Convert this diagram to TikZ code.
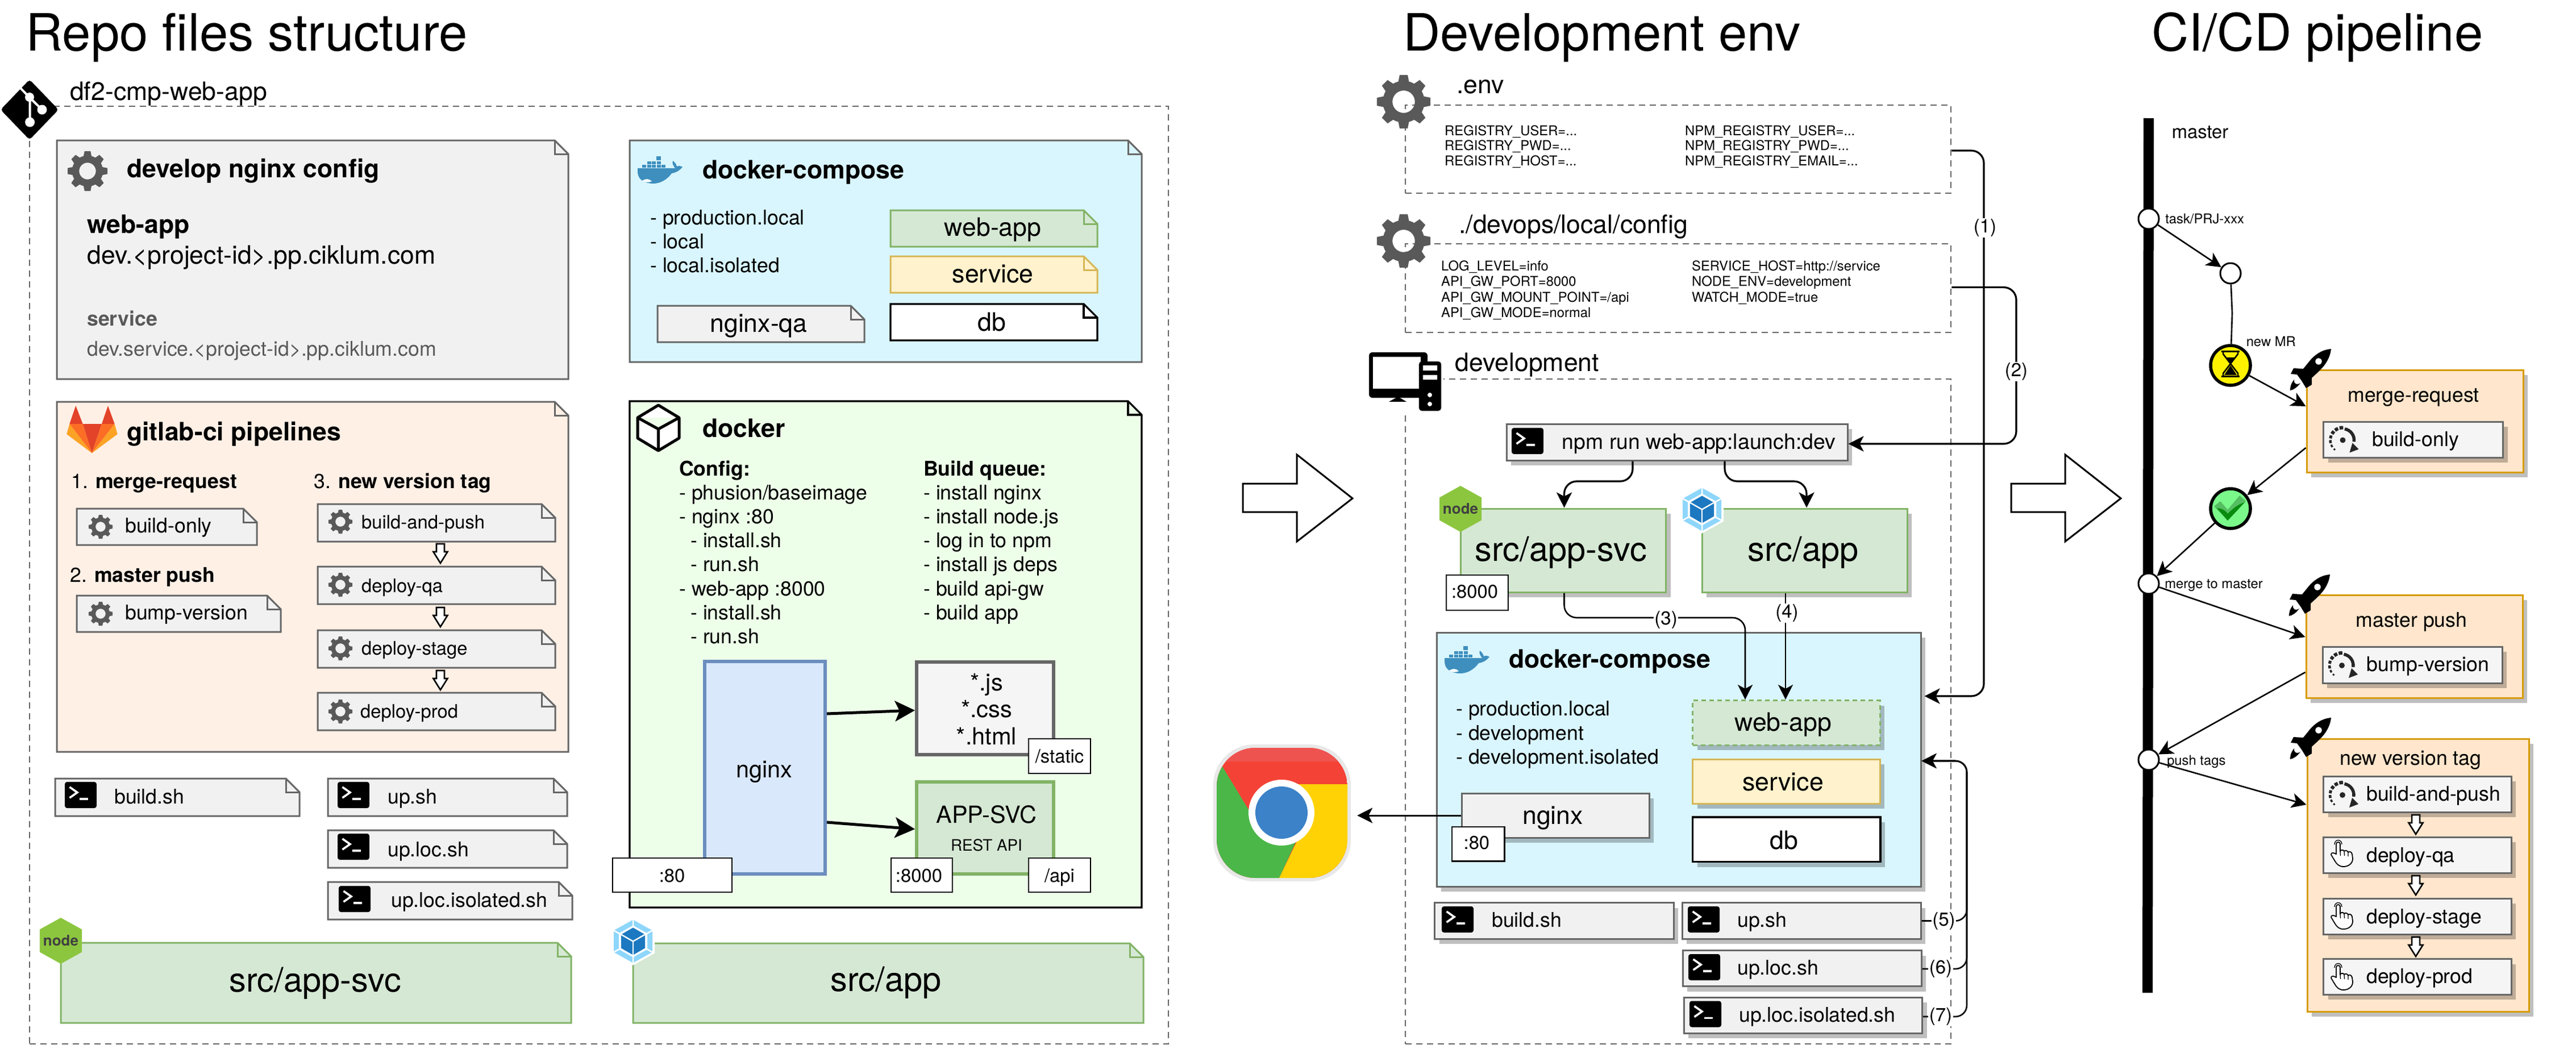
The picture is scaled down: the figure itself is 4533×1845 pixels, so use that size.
\documentclass[tikz,border=0pt]{standalone}
\usepackage{fontspec}
\setmainfont[Ligatures=NoCommon]{TeX Gyre Heros}
\usetikzlibrary{arrows.meta,fit,calc}
\definecolor{grayf}{HTML}{F1F1F1}
\definecolor{grays}{HTML}{666666}
\definecolor{gearc}{HTML}{595959}
\definecolor{orgf}{HTML}{FFF0E6}
\definecolor{cyanf}{HTML}{D9F6FF}
\definecolor{grnf}{HTML}{D5E8D4}
\definecolor{grns}{HTML}{82B366}
\definecolor{yelf}{HTML}{FFF2CC}
\definecolor{yels}{HTML}{D6B656}
\definecolor{dockf}{HTML}{EDFFE9}
\definecolor{bluef}{HTML}{DAE8FC}
\definecolor{blues}{HTML}{6C8EBF}
\definecolor{pipef}{HTML}{FFE6CC}
\definecolor{pipes}{HTML}{D79B00}
\definecolor{lightf}{HTML}{F5F5F5}
\definecolor{whalec}{HTML}{3E8FBE}
\definecolor{nodec}{HTML}{8CC63F}
\definecolor{glA}{HTML}{E24329}
\definecolor{glB}{HTML}{FC6D26}
\definecolor{glC}{HTML}{FCA326}
\definecolor{packL}{HTML}{8ED6FB}
\definecolor{packD}{HTML}{1C78C0}
\definecolor{chR}{HTML}{F44336}
\definecolor{chRL}{HTML}{EF5350}
\definecolor{chG}{HTML}{4CB749}
\definecolor{chY}{HTML}{FFD205}
\definecolor{chB}{HTML}{3B82C8}
\definecolor{okf}{HTML}{7AF88A}
\definecolor{okL}{HTML}{54BE60}
\definecolor{okD}{HTML}{088C0E}
\tikzset{
  grayb/.style={draw=grays,fill=grayf,line width=3pt},
  orgb/.style={draw=grays,fill=orgf,line width=3pt},
  cyanb/.style={draw=grays,fill=cyanf,line width=3pt},
  grnb/.style={draw=grns,fill=grnf,line width=3pt},
  yelb/.style={draw=yels,fill=yelf,line width=3pt},
  blkb/.style={draw=black,fill=white,line width=3.2pt},
  dockb/.style={draw=black,fill=dockf,line width=3.2pt},
  tagb/.style={draw=black,fill=white,line width=2.6pt},
  pipeb/.style={draw=pipes,fill=pipef,line width=3pt},
  jobb/.style={draw=grays,fill=lightf,line width=3pt},
  dashb/.style={draw=grays,line width=2.6pt,dash pattern=on 11pt off 8pt},
  conn/.style={draw=black,line width=3.2pt,-{Stealth[length=27pt,width=27pt,inset=7pt]}},
  thin conn/.style={draw=black,line width=2.6pt,-{Stealth[length=26pt,width=26pt,inset=7pt]}},
  fat conn/.style={draw=black,line width=5pt,-{Stealth[length=35pt,width=36pt,inset=8pt]}},
  lab/.style={fill=white,inner sep=1.5pt,font=\fontsize{33}{33}\selectfont},
  hollow/.style={draw=black,fill=white,line width=2.6pt,line join=miter},
  circ/.style={circle,draw=black,fill=white,line width=3pt,minimum size=36pt,inner sep=0pt},
}
\newcounter{tn}
\newcommand\TL[5][]{\stepcounter{tn}\node[anchor=base west,inner sep=0pt,font=\fontsize{#2}{#2}\selectfont,#1] (t\arabic{tn}) at (#3,#4) {#5};}
\newcommand\TC[5][]{\stepcounter{tn}\node[anchor=base,inner sep=0pt,font=\fontsize{#2}{#2}\selectfont,#1] (t\arabic{tn}) at (#3,#4) {#5};}
\newcommand\BX[6]{\node[fit={(#2,#3)(#4,#5)},inner sep=0pt,#6] (#1) {};}
\newcommand\SBX[6]{\fill[black,opacity=.25,shift={(8,9)}] (#2,#3) rectangle (#4,#5);\BX{#1}{#2}{#3}{#4}{#5}{#6}}
\newcommand\NoteBx[6]{\draw[#6,line join=miter] (#2,#3) -- ($(#4,#3)+(-24,0)$) -- ($(#4,#3)+(0,24)$) -- (#4,#5) -- (#2,#5) -- cycle;
  \draw[#6,fill=none,line join=miter] ($(#4,#3)+(-24,0)$) -- ($(#4,#3)+(-24,24)$) -- ($(#4,#3)+(0,24)$);
  \node[fit={(#2,#3)(#4,#5)},inner sep=0pt] (#1) {};}
\newcommand\GearIc[3]{\begin{scope}[shift={(#1,#2)},x=#3pt,y=#3pt]
  \fill[gearc,even odd rule] (0,0) circle (0.78) (0,0) circle (0.42);
  \foreach \a in {0,45,...,315}{\fill[gearc,rotate=\a] (-.21,.7) -- (-.15,1) -- (.15,1) -- (.21,.7) -- cycle;}
  \end{scope}}
\newcommand\TermIc[2]{\begin{scope}[shift={(#1,#2)}]
  \fill[black,rounded corners=4pt] (0,0) rectangle (56,46);
  \draw[white,line width=3.6pt] (8.5,9) -- (22,18.5) -- (8.5,28);
  \draw[white,line width=3.4pt] (26,30) -- (41,30);
  \end{scope}}
\newcommand\WhaleIc[2]{\begin{scope}[shift={(#1,#2)}]
  \fill[whalec] (0,22) -- (66,22) .. controls (63,18) and (60,13) .. (62,9) .. controls (66,12) and (68,15) .. (69,19) .. controls (72,17) and (76,18) .. (79,20) .. controls (72,28) and (66,30) .. (60,31) .. controls (52,42) and (40,49) .. (28,49) .. controls (12,49) and (0,42) .. (0,28) -- cycle;
  \foreach \px in {8,17,25,34,42}{\fill[whalec] (\px,16) rectangle ++(7,5);}
  \foreach \px in {17,25,34}{\fill[whalec] (\px,9.5) rectangle ++(7,5);}
  \fill[whalec] (33,1) rectangle ++(8,7);
  \fill[white] (8,44) .. controls (14,40) and (20,40) .. (25,45) .. controls (18,48) and (12,47) .. (8,44) -- cycle;
  \end{scope}}
\newcommand\NodeIc[2]{\begin{scope}[shift={(#1,#2)}]
  \fill[nodec] (0,-40.5) -- (37,-20) -- (37,20) -- (0,40.5) -- (-37,20) -- (-37,-20) -- cycle;
  \end{scope}
  \stepcounter{tn}\node[inner sep=0pt,text=black!75,font=\bfseries\fontsize{26}{26}\selectfont] (t\arabic{tn}) at (#1,#2) {node};}
\newcommand\PackIc[2]{\begin{scope}[shift={(#1,#2)}]
  \fill[white] (0,-42) -- (38,-21) -- (38,21) -- (0,42) -- (-38,21) -- (-38,-21) -- cycle;
  \fill[packL] (0,-38) -- (34,-19) -- (34,19) -- (0,38) -- (-34,19) -- (-34,-19) -- cycle;
  \draw[white,line width=2.5pt] (0,-38) -- (0,-24) (34,-19) -- (21,-12) (34,19) -- (21,12) (0,38) -- (0,24) (-34,19) -- (-21,12) (-34,-19) -- (-21,-12);
  \fill[white] (0,-28) -- (25,-14) -- (25,14) -- (0,28) -- (-25,14) -- (-25,-14) -- cycle;
  \fill[packD] (0,-24) -- (21,-12) -- (21,12) -- (0,24) -- (-21,12) -- (-21,-12) -- cycle;
  \draw[white,line width=2.4pt] (-21,-12) -- (0,0) -- (21,-12) (0,0) -- (0,24);
  \end{scope}}
\newcommand\RocketIc[2]{\begin{scope}[shift={(#1,#2)}]
  \fill[black] (0,0) .. controls (-12,1) and (-24,6) .. (-36,19) -- (-49,35) -- (-66,34) -- (-71,44) -- (-60,45) -- (-52,56) -- (-44,69) -- (-34,63) -- (-34,51) .. controls (-20,38) and (-3,25) .. (0,0) -- cycle;
  \fill[white] (-22,22) circle (5.7pt);
  \fill[black] (-54,60) .. controls (-60,68) and (-66,72) .. (-72,73) .. controls (-72,65) and (-70,60) .. (-65,54) .. controls (-66,62) and (-60,64) .. (-54,60) -- cycle;
  \end{scope}}
\newcommand\SpinIc[2]{\begin{scope}[shift={(#1,#2)}]
  \fill[black!85] (0,0) circle (5pt);
  \draw[black!85,line width=5.5pt] ({20*cos(80)},{-20*sin(80)}) arc[start angle=80,end angle=-8,radius=20pt];
  \fill[black!85] (12,22) -- (28,16) -- (17,5) -- cycle;
  \foreach \a/\b/\w in {88/105/6,112/128/6,135/150/6,158/172/5,180/194/4.5,202/214/3.5,224/232/3}{
    \draw[black!85,line width=\w pt] ({22*cos(\a)},{-22*sin(\a)}) arc[start angle=\a,end angle=\b,radius=22pt];}
  \end{scope}}
\newcommand\HandIc[2]{\begin{scope}[shift={(#1,#2)}]
  \draw[black,line width=1.8pt,fill=white,line join=round] (9,27) -- (9,9) .. controls (9,5) and (16,5) .. (16,9) -- (16,22) .. controls (17,19) and (22,19) .. (23,22) .. controls (24,20) and (29,20) .. (30,24) .. controls (31,22) and (36,22) .. (37,27) -- (38,35) .. controls (38,44) and (30,49) .. (22,49) .. controls (14,49) and (10,45) .. (6,38) -- (0,28) .. controls (0,24) and (4,24) .. (9,27) -- cycle;
  \draw[black,line width=1.3pt] (16,22) -- (16.5,30) (23,22) -- (23.5,30) (30,24) -- (30,31);
  \draw[black,line width=1.3pt] (6,10) .. controls (6,0) and (19,0) .. (19,10);
  \end{scope}}
\newcommand\SmallDn[2]{\draw[hollow] ($(#1,#2)+(-7,0)$) -- ($(#1,#2)+(7,0)$) -- ($(#1,#2)+(7,14)$) -- ($(#1,#2)+(12.5,14)$) -- ($(#1,#2)+(0,34)$) -- ($(#1,#2)+(-12.5,14)$) -- ($(#1,#2)+(-7,14)$) -- cycle;}
\newcommand\BigRt[1]{\begin{scope}[shift={(#1,0)}]
  \draw[draw=black,line width=3pt,line join=miter] (0,851) -- (95,851) -- (95,800) -- (193,877) -- (95,953) -- (95,901) -- (0,901) -- cycle;
  \end{scope}}
\def\sT{90.5}\def\sB{44.6}\def\sC{35.7}\def\sD{32.8}\def\sE{23.8}\def\sF{59.5}\def\sG{41.5}
\begin{document}
\begin{tikzpicture}[x=1pt,y=-1pt]
\useasboundingbox (0,0) rectangle (4533,1845);
\fill[white] (0,0) rectangle (4533,1845);
% titles
\TL{\sT}{45}{89}{Repo files structure}
\TL{\sT}{2469}{89}{Development env}
\TL{\sT}{3786}{89}{CI/CD pipeline}
% ----- repository
\BX{repo}{52}{187}{2056}{1837}{dashb}
\fill[black,rounded corners=5pt] (52,140) -- (103,193) -- (52,246) -- (1,193) -- cycle;
\draw[white,line width=4pt] (35,154) -- (52.6,172) -- (52.6,214) (52.6,172) -- (74,193);
\fill[white] (52,171) circle (8pt) (74,193) circle (8.5pt) (52.6,215) circle (8.5pt);
\TL{\sB}{123}{176}{df2-cmp-web-app}
% nginx config
\NoteBx{ngcfg}{100}{247}{1000}{667}{grayb}
\GearIc{154}{301}{35}
\TL[font=\bfseries\fontsize{44.6}{44.6}\selectfont]{\sB}{223}{312}{develop nginx config}
\TL[font=\bfseries\fontsize{44.6}{44.6}\selectfont]{\sB}{153}{410}{web-app}
\TL{\sB}{153}{464}{dev.<project-id>.pp.ciklum.com}
\TL[text=gearc,font=\bfseries\fontsize{35.7}{35.7}\selectfont]{\sC}{153}{573}{service}
\TL[text=gearc]{\sC}{153}{626}{dev.service.<project-id>.pp.ciklum.com}
% gitlab
\NoteBx{glab}{100}{707}{1000}{1323}{orgb}
\fill[glA] (133.3,714) -- (145.7,746) -- (122.3,746) -- cycle (190,714) -- (201.7,746) -- (179,746) -- cycle (145.7,746) -- (179,746) -- (161.7,797.3) -- cycle;
\fill[glB] (122.3,746) -- (145.7,746) -- (161.7,797.3) -- cycle (201.7,746) -- (179,746) -- (161.7,797.3) -- cycle;
\fill[glC] (122.3,746) -- (117.3,764) -- (161.7,797.3) -- cycle (201.7,746) -- (206.7,764) -- (161.7,797.3) -- cycle;
\TL[font=\bfseries\fontsize{44.6}{44.6}\selectfont]{\sB}{223}{775}{gitlab-ci pipelines}
\TL{\sC}{125}{859}{1. \textbf{merge-request}}
\TL{\sC}{552}{859}{3. \textbf{new version tag}}
\TL{\sC}{123}{1024}{2. \textbf{master push}}
\NoteBx{g1}{135}{895}{452}{959}{grayb}
\GearIc{177}{927}{21}
\TL{\sC}{220}{937}{build-only}
\NoteBx{g2}{135}{1048}{494}{1112}{grayb}
\GearIc{177}{1080}{21}
\TL{\sC}{220}{1090}{bump-version}
\NoteBx{g3}{559}{887}{977}{953}{grayb}
\GearIc{599}{918}{21}
\TL{\sD}{636}{930}{build-and-push}
\NoteBx{g4}{559}{997}{977}{1063}{grayb}
\GearIc{599}{1029}{21}
\TL{\sD}{636}{1042}{deploy-qa}
\NoteBx{g5}{559}{1109}{977}{1175}{grayb}
\GearIc{599}{1141}{21}
\TL{\sD}{636}{1152.5}{deploy-stage}
\NoteBx{g6}{559}{1219}{977}{1285}{grayb}
\GearIc{599}{1252}{21}
\TL{\sD}{634}{1263}{deploy-prod}
\SmallDn{775}{957}
\SmallDn{775}{1069}
\SmallDn{775}{1180}
% scripts
\NoteBx{s1}{97}{1370}{527}{1436}{grayb}
\TermIc{114}{1376}
\TL{\sC}{201}{1414}{build.sh}
\NoteBx{s2}{577}{1370}{998}{1436}{grayb}
\TermIc{594}{1376}
\TL{\sC}{682}{1414}{up.sh}
\NoteBx{s3}{577}{1461}{998}{1527}{grayb}
\TermIc{594}{1467}
\TL{\sC}{682}{1507}{up.loc.sh}
\NoteBx{s4}{577}{1552}{1007}{1618}{grayb}
\TermIc{596}{1559}
\TL{\sC}{688}{1596}{up.loc.isolated.sh}
\NoteBx{srca}{107}{1659}{1005}{1800}{grnb}
\NodeIc{107}{1655.5}
\TC{\sF}{555}{1745}{src/app-svc}
% docker-compose
\NoteBx{dcrepo}{1108}{247}{2009}{637}{cyanb}
\WhaleIc{1122}{274}
\TL[font=\bfseries\fontsize{44.6}{44.6}\selectfont]{\sB}{1236}{314}{docker-compose}
\TL{\sC}{1144}{395}{- production.local}
\TL{\sC}{1144}{437}{- local}
\TL{\sC}{1144}{479}{- local.isolated}
\NoteBx{r1}{1567}{370}{1931}{434}{grnb}
\TC{\sB}{1747}{415}{web-app}
\NoteBx{r2}{1567}{451}{1931}{515}{yelb}
\TC{\sB}{1747}{497}{service}
\NoteBx{r3}{1567}{535}{1931}{599}{blkb}
\TC{\sB}{1745}{582}{db}
\NoteBx{r4}{1157}{538}{1521}{602}{grayb}
\TC{\sB}{1335}{584}{nginx-qa}
% docker
\NoteBx{dockr}{1108}{706}{2009}{1597}{dockb}
\draw[black,fill=white,line width=5pt,line join=round] (1158.5,713) -- (1195,735) -- (1195,771) -- (1158.5,793) -- (1122,771) -- (1122,735) -- cycle (1122,735) -- (1158.5,755) -- (1195,735) (1158.5,755) -- (1158.5,793);
\TL[font=\bfseries\fontsize{44.6}{44.6}\selectfont]{\sB}{1236}{769}{docker}
\TL[font=\bfseries\fontsize{35.7}{35.7}\selectfont]{\sC}{1195}{837}{Config:}
\TL{\sC}{1195}{879}{- phusion/baseimage}
\TL{\sC}{1195}{921}{- nginx :80}
\TL{\sC}{1215}{963}{- install.sh}
\TL{\sC}{1215}{1005}{- run.sh}
\TL{\sC}{1195}{1048}{- web-app :8000}
\TL{\sC}{1215}{1090}{- install.sh}
\TL{\sC}{1215}{1132}{- run.sh}
\TL[font=\bfseries\fontsize{35.7}{35.7}\selectfont]{\sC}{1625}{837}{Build queue:}
\TL{\sC}{1625}{879}{- install nginx}
\TL{\sC}{1625}{921}{- install node.js}
\TL{\sC}{1625}{963}{- log in to npm}
\TL{\sC}{1625}{1005}{- install js deps}
\TL{\sC}{1625}{1048}{- build api-gw}
\TL{\sC}{1625}{1090}{- build app}
\BX{ngx}{1240}{1164}{1452}{1538}{draw=blues,fill=bluef,line width=6pt}
\TC{\sG}{1345}{1368}{nginx}
\BX{stat}{1613}{1165}{1854}{1328}{draw=grays,fill=lightf,line width=6pt}
\TC{\sG}{1736}{1215}{*.js}
\TC{\sG}{1736}{1262}{*.css}
\TC{\sG}{1736}{1310}{*.html}
\BX{apps}{1613}{1376}{1854}{1538}{draw=grns,fill=grnf,line width=6pt}
\TC{\sG}{1736}{1448}{APP-SVC}
\TC{27.8}{1736}{1497}{REST API}
\BX{tstat}{1810}{1300}{1919}{1361}{tagb}
\TC{\sD}{1864.5}{1342}{/static}
\BX{t80}{1078}{1510}{1288}{1570}{tagb}
\TC{\sD}{1182.6}{1552}{:80}
\BX{t8k}{1568}{1510}{1676}{1570}{tagb}
\TC{\sD}{1617}{1552}{:8000}
\BX{tapi}{1810}{1510}{1919}{1570}{tagb}
\TC{\sD}{1864.5}{1552}{/api}
\draw[fat conn] (ngx.east |- 0,1256) -- (stat.west |- 0,1250);
\draw[fat conn] (ngx.east |- 0,1447) -- (apps.west |- 0,1459);
\NoteBx{srcb}{1114}{1660}{2012}{1800}{grnb}
\PackIc{1114}{1656.5}
\TC{\sF}{1559}{1744}{src/app}
% arrows between panels
\BigRt{2187}
\BigRt{3539}
% ----- development
\BX{envb}{2473}{185}{3433}{340}{dashb}
\GearIc{2470}{179}{47}
\TL{\sB}{2563}{164}{.env}
\TL{\sE}{2542}{238}{REGISTRY\_USER=...}
\TL{\sE}{2542}{264}{REGISTRY\_PWD=...}
\TL{\sE}{2542}{291}{REGISTRY\_HOST=...}
\TL{\sE}{2965}{238}{NPM\_REGISTRY\_USER=...}
\TL{\sE}{2965}{264}{NPM\_REGISTRY\_PWD=...}
\TL{\sE}{2965}{291}{NPM\_REGISTRY\_EMAIL=...}
\BX{cfgb}{2473}{429}{3433}{585}{dashb}
\GearIc{2470}{424}{47}
\TL{\sB}{2567}{410}{./devops/local/config}
\TL{\sE}{2536}{476.5}{LOG\_LEVEL=info}
\TL{\sE}{2536}{503.5}{API\_GW\_PORT=8000}
\TL{\sE}{2536}{531}{API\_GW\_MOUNT\_POINT=/api}
\TL{\sE}{2536}{558}{API\_GW\_MODE=normal}
\TL{\sE}{2977}{476.5}{SERVICE\_HOST=http://service}
\TL{\sE}{2977}{503.5}{NODE\_ENV=development}
\TL{\sE}{2977}{531}{WATCH\_MODE=true}
\BX{devb}{2473}{667}{3433}{1837}{dashb}
\TL{\sB}{2560}{653.5}{development}
% computer icon
\fill[white] (2405,615) rectangle (2540,728);
\fill[black,rounded corners=6pt] (2409,620) rectangle (2512,700);
\fill[white] (2416,628) rectangle (2500,684);
\fill[black] (2444,707) -- (2460,698) -- (2475,707) -- cycle;
\fill[black,rounded corners=5pt] (2497,636) rectangle (2536,723);
\fill[white] (2504,643) rectangle (2529,652) (2504,660) rectangle (2529,668);
\fill[white] (2516,695) circle (4pt) (2516,711) circle (4pt);
% npm
\SBX{npm}{2651}{746}{3251}{810}{grayb}
\TermIc{2660}{753}
\TL{37.4}{2748.5}{790}{npm run web-app:launch:dev}
% src boxes
\SBX{svc}{2570.5}{895}{2931.6}{1042}{grnb}
\NodeIc{2570}{895.5}
\TC{\sF}{2747}{987}{src/app-svc}
\SBX{app}{2995}{895}{3356}{1042}{grnb}
\PackIc{2995}{896.5}
\TC{\sF}{3173}{987}{src/app}
\BX{t8kd}{2545}{1012}{2654}{1074}{tagb}
\TC{\sD}{2595}{1052}{:8000}
\draw[conn,rounded corners=22pt] (npm.south -| 2873,0) -- (2873,847) -- (2752.5,847) -- (svc.north -| 2752.5,0);
\draw[conn,rounded corners=22pt] (npm.south -| 3035,0) -- (3035,847) -- (3179,847) -- (app.north -| 3179,0);
% docker-compose dev
\SBX{dc}{2528}{1113}{3380}{1560}{cyanb}
\WhaleIc{2542}{1136}
\TL[font=\bfseries\fontsize{44.6}{44.6}\selectfont]{\sB}{2655}{1175}{docker-compose}
\TL{\sC}{2562}{1259}{- production.local}
\TL{\sC}{2562}{1302}{- development}
\TL{\sC}{2562}{1344}{- development.isolated}
\SBX{wa}{2978.5}{1232.5}{3308}{1311}{grnb,dash pattern=on 8pt off 6pt}
\TC{\sB}{3137.5}{1286}{web-app}
\SBX{sv}{2978.5}{1336}{3308}{1414}{yelb}
\TC{\sB}{3137.5}{1391}{service}
\SBX{dbd}{2978.5}{1438}{3309}{1516.5}{blkb}
\TC{\sB}{3139}{1494}{db}
\SBX{ngd}{2572.5}{1396}{2902}{1474}{grayb}
\TC{\sB}{2732.5}{1450.6}{nginx}
\BX{t80d}{2555}{1455}{2647.5}{1515.5}{tagb}
\TC{\sD}{2598.4}{1494}{:80}
\SBX{bd}{2524.5}{1588.5}{2945}{1652}{grayb}
\TermIc{2537}{1595}
\TL{\sC}{2625}{1631.6}{build.sh}
\SBX{u1}{2960}{1588.5}{3380}{1652}{grayb}
\TermIc{2970}{1595}
\TL{\sC}{3057}{1631.6}{up.sh}
\SBX{u2}{2961}{1672.7}{3381}{1735.6}{grayb}
\TermIc{2971}{1679}
\TL{\sC}{3057}{1715}{up.loc.sh}
\SBX{u3}{2963}{1755}{3382.6}{1818}{grayb}
\TermIc{2973}{1761.5}
\TL{\sC}{3060}{1798}{up.loc.isolated.sh}
% dev connectors
\draw[thin conn,rounded corners=22pt] (svc.south -| 2752.5,0) -- (2752.5,1087) -- (3071,1087) -- (wa.north -| 3071,0);
\draw[thin conn] (app.south -| 3142,0) -- (wa.north -| 3142,0);
\node[lab] (l3) at (2931.6,1091) {(3)};
\node[lab] (l4) at (3144.5,1079) {(4)};
\draw[conn,rounded corners=22pt,shorten >=5pt] (envb.east |- 0,265) -- (3491,265) -- (3491,1225) -- (dc.east |- 0,1225);
\node[lab] (l1) at (3493,401) {(1)};
\draw[conn,rounded corners=22pt] (cfgb.east |- 0,505.6) -- (3548,505.6) -- (3548,781) -- (npm.east |- 0,781);
\node[lab] (l2) at (3548,654) {(2)};
\draw[thin conn,rounded corners=20pt] (u1.east |- 0,1620.5) -- (3461,1620.5) -- (3461,1339) -- (dc.east |- 0,1339);
\draw[thin conn,rounded corners=20pt] (u2.east |- 0,1705) -- (3461,1705) -- (3461,1339) -- (dc.east |- 0,1339);
\draw[thin conn,rounded corners=20pt] (u3.east |- 0,1789) -- (3461,1789) -- (3461,1339) -- (dc.east |- 0,1339);
\node[lab] (l5) at (3420.5,1620.5) {(5)};
\node[lab] (l6) at (3415,1705) {(6)};
\node[lab] (l7) at (3415,1789) {(7)};
% chrome
\node[fit={(2135,1310)(2388,1551)},inner sep=0pt] (chrome) {};
\fill[black!9,rounded corners=72pt] (2135,1310) rectangle (2377,1551);
\begin{scope}
\clip[rounded corners=68pt] (2141,1316) rectangle (2371,1545);
\fill[chR] (2141,1316) rectangle (2371,1545);
\fill[chRL] (2141,1316) rectangle (2371,1340);
\fill[chG] (2151,1349) -- (2199,1428) -- (2285,1471) -- (2251,1545) -- (2141,1545) -- (2141,1349) -- cycle;
\fill[chY] (2255,1380) -- (2371,1380) -- (2371,1545) -- (2251,1545) -- (2292,1460) -- cycle;
\end{scope}
\fill[white] (2255,1430) circle (58pt);
\fill[chB] (2255,1430) circle (46pt);
\draw[conn,line width=3pt] (ngd.west |- 0,1435) -- (chrome.east |- 0,1435);
% ----- CI/CD
\coordinate (mtop) at (3781,208);
\coordinate (mbot) at (3779,1747);
\draw[black,line width=18pt] (mtop) -- (mbot);
\TL{\sD}{3821.5}{243}{master}
\node[circ] (c1) at (3781,385) {};
\node[circ] (c2) at (3925,481) {};
\node[circ] (c3) at (3781,1027) {};
\node[circ] (c4) at (3781,1337) {};
\node[circ,fill=yellow,line width=5.5pt,minimum size=70pt] (hg) at (3925,643) {};
\node[circ,fill=okf,line width=5.5pt,minimum size=70pt] (chk) at (3925,895) {};
\TL{\sE}{3810}{393}{task/PRJ-xxx}
\TL{\sE}{3952.5}{609}{new MR}
\TL{\sE}{3809}{1035}{merge to master}
\TL{\sE}{3813}{1346}{push tags}
% hourglass
\begin{scope}[shift={(3925,643)}]
\draw[black,line width=3pt] (-16,-25) -- (16,-25) (-16,19) -- (16,19);
\draw[black,line width=2.6pt] (-13,-25) -- (-13,-20) -- (0,-3) -- (-13,14) -- (-13,19) (13,-25) -- (13,-20) -- (0,-3) -- (13,14) -- (13,19);
\fill[black] (-9,-14) -- (9,-14) -- (0,-4) -- cycle (0,0) -- (11,17) -- (-11,17) -- cycle;
\end{scope}
% check mark
\begin{scope}[shift={(3925,895)}]
\fill[okL] (-29,-4) -- (-18,-13) -- (-5,2) -- (16,-23) -- (27,-13) -- (-5,21) -- cycle;
\fill[okD] (-24,-1) .. controls (-14,0) and (-8,4) .. (-5,9) .. controls (4,0) and (14,-8) .. (25,-11) -- (-5,21) -- cycle;
\end{scope}
% pipeline boxes
\SBX{mr}{4059}{651}{4440}{831}{pipeb}
\TC{\sC}{4247}{707}{merge-request}
\SBX{mrj}{4088.5}{742}{4404.5}{805}{jobb}
\SpinIc{4122.5}{774.5}
\TL{\sC}{4174}{785}{build-only}
\RocketIc{4102}{614}
\SBX{mp}{4058}{1047}{4439}{1228}{pipeb}
\TC{\sC}{4243.5}{1103.5}{master push}
\SBX{mpj}{4087}{1138}{4403}{1202}{jobb}
\SpinIc{4121}{1171}
\TL{\sC}{4164.4}{1181.6}{bump-version}
\RocketIc{4100}{1011}
\SBX{nv}{4060}{1300}{4450}{1780}{pipeb}
\TC{\sC}{4242}{1346.5}{new version tag}
\SBX{nv1}{4088.5}{1366}{4419}{1429.4}{jobb}
\SpinIc{4122}{1399}
\TL{\sC}{4164}{1409.5}{build-and-push}
\SBX{nv2}{4088.5}{1473}{4419}{1536}{jobb}
\HandIc{4102}{1476}
\TL{\sC}{4164}{1517}{deploy-qa}
\SBX{nv3}{4088.5}{1581}{4419}{1644}{jobb}
\HandIc{4102}{1586}
\TL{\sC}{4164}{1625}{deploy-stage}
\SBX{nv4}{4088.5}{1687.5}{4419}{1750}{jobb}
\HandIc{4102}{1693}
\TL{\sC}{4164}{1730}{deploy-prod}
\SmallDn{4251}{1434}
\SmallDn{4251}{1541}
\SmallDn{4251}{1649}
\RocketIc{4102}{1263}
% pipeline connectors
\draw[thin conn] (c1) -- (c2);
\draw[black,line width=2.6pt] (c2) -- (3928,551) -- (hg);
\draw[thin conn] (hg) -- (mr.west |- 0,715);
\draw[thin conn] (mr.west |- 0,788) -- (chk);
\draw[thin conn] (chk) -- (c3);
\draw[thin conn] (c3) -- (mp.west |- 0,1121);
\draw[thin conn] (mp.west |- 0,1183) -- (c4);
\draw[thin conn] (c4) -- (nv.west |- 0,1416);
\end{tikzpicture}
\end{document}
